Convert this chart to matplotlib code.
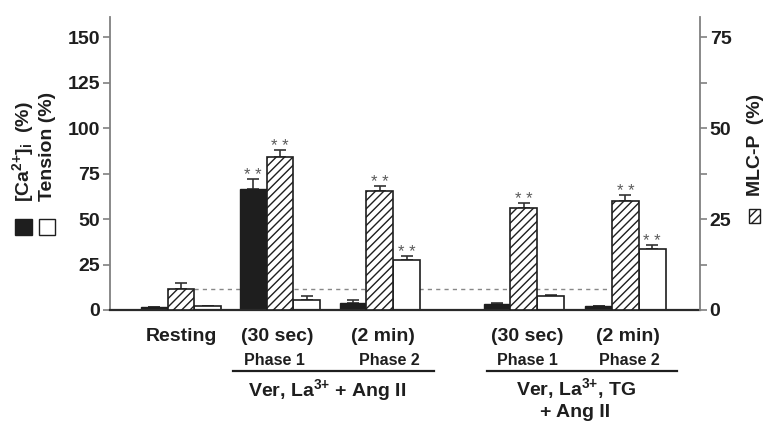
import numpy as np
import matplotlib
matplotlib.use("Agg")
import matplotlib.pyplot as plt
import matplotlib.transforms as mtransforms
from matplotlib.patches import Rectangle

plt.rcParams['font.family'] = ['Liberation Sans', 'DejaVu Sans']
plt.rcParams['font.weight'] = 'bold'
plt.rcParams['mathtext.fontset'] = 'custom'
plt.rcParams['mathtext.rm'] = 'Liberation Sans:bold'
plt.rcParams['mathtext.bf'] = 'Liberation Sans:bold'
plt.rcParams['mathtext.default'] = 'rm'
plt.rcParams['hatch.linewidth'] = 1.0

# data (left axis %: Ca and tension, right axis %: MLC-P)
groups = ["Resting", "(30 sec)", "(2 min)", "(30 sec)", "(2 min)"]
phases = ["Phase 1", "Phase 2", "Phase 1", "Phase 2"]
ca = [1.8, 66.3, 3.8, 3.1, 2.0]
ca_err = [0.0, 5.5, 1.5, 0.9, 0.0]
mlcp = [5.8, 42.1, 32.7, 27.9, 30.0]
mlcp_err = [1.7, 1.9, 1.4, 1.5, 1.6]
tension = [2.2, 5.5, 27.5, 7.9, 33.7]
tension_err = [0.0, 2.4, 2.2, 0.5, 2.2]
ca_sig = [False, True, False, False, False]
mlcp_sig = [False, True, True, True, True]
tension_sig = [False, False, True, False, True]
mlcp_rest = 5.9

W, H = 763, 421
DARK = '#1e1e1e'
GREY = '#5a5a5a'

fig = plt.figure(figsize=(W / 100, H / 100), dpi=100)
ax = fig.add_axes([110 / W, 1 - 310 / H, 590 / W, 293 / H])
ax2 = ax.twinx()

centers = np.array([2.65, 6.34, 10.06, 15.43, 19.22])  # middle (hatched) bar of each group
label_x = [2.67, 6.22, 10.18, 15.54, 19.32]
phase_x = [6.15, 10.40, 15.55, 19.35]
bw = 1.0

ax.set_xlim(0, 22)
ax.set_ylim(0, 161)
ax2.set_ylim(0, 80.5)

# dashed resting level of MLC-P
ax.plot([centers[0] + 0.5, centers[4] - 0.5], [mlcp_rest * 2, mlcp_rest * 2],
        ls=(0, (3, 3)), color='#888888', lw=1.0, zorder=1)

ax.bar(centers - bw, ca, bw, color=DARK, edgecolor=DARK, lw=1.0, zorder=2)
ax.bar(centers + bw, tension, bw, color='white', edgecolor=DARK, lw=1.2, zorder=2)
ax2.bar(centers, mlcp, bw, color='white', edgecolor=DARK, lw=1.2, hatch='////', zorder=2)

ekw = dict(fmt='none', ecolor='#333333', elinewidth=1.2, capsize=4, capthick=1.2, zorder=1.5)
ax.errorbar(centers - bw, ca, yerr=[np.zeros(5), ca_err], **ekw)
ax.errorbar(centers + bw, tension, yerr=[np.zeros(5), tension_err], **ekw)
ax2.errorbar(centers, mlcp, yerr=[np.zeros(5), mlcp_err], **ekw)

# significance marks
skw = dict(xytext=(0, -0.7), textcoords='offset points', ha='center', va='baseline',
           fontsize=12, color=GREY, fontweight='normal')
for i in range(5):
    if ca_sig[i]:
        ax.annotate("* *", (centers[i] - bw, ca[i] + ca_err[i]), **skw)
    if tension_sig[i]:
        ax.annotate("* *", (centers[i] + bw, tension[i] + tension_err[i]), **skw)
    if mlcp_sig[i]:
        ax2.annotate("* *", (centers[i], mlcp[i] + mlcp_err[i]), **skw)

# axes styling
for a in (ax, ax2):
    a.spines['top'].set_visible(False)
    a.set_xticks([])
ax.spines['right'].set_visible(False)
ax2.spines['left'].set_visible(False)
ax2.spines['bottom'].set_visible(False)
ax.spines['left'].set_color('#808080')
ax.spines['left'].set_linewidth(1.3)
ax2.spines['right'].set_color('#808080')
ax2.spines['right'].set_linewidth(1.3)
ax.spines['bottom'].set_color('#2a2a2a')
ax.spines['bottom'].set_linewidth(1.6)

ax.set_yticks([0, 25, 50, 75, 100, 125, 150])
ax.tick_params(axis='y', length=5, width=1.2, color='#808080', labelsize=14, labelcolor=DARK, pad=2)
ax2.set_yticks([0, 25, 50, 75])
ax2.set_yticks([12.5, 37.5, 62.5], minor=True)
ax2.tick_params(axis='y', which='both', length=5, width=1.2, color='#808080', labelsize=14,
                labelcolor=DARK, pad=2)

# x-axis category labels
xfp = ('data', 'figure pixels')
tkw = dict(xycoords=xfp, ha='center', va='baseline', color=DARK, annotation_clip=False)
for i, g in enumerate(groups):
    ax.annotate(g, (label_x[i], H - 341), fontsize=14, **tkw)
for x, p in zip(phase_x, phases):
    ax.annotate(p, (x, H - 365), fontsize=11.5, **tkw)

under = mtransforms.blended_transform_factory(ax.transData, mtransforms.IdentityTransform())
ax.plot([4.6, 12.08], [H - 370.5, H - 370.5], color=DARK, lw=1.6, transform=under, clip_on=False)
ax.plot([14.05, 21.13], [H - 370.5, H - 370.5], color=DARK, lw=1.6, transform=under, clip_on=False)

ax.annotate("Ver, La$^{3{+}}$ + Ang II", (8.08, H - 396.5), fontsize=14, **tkw)
ax.annotate("Ver, La$^{3{+}}$, TG", (17.37, H - 395.5), fontsize=14, **tkw)
ax.annotate("+ Ang II", (17.35, H - 417), fontsize=14, **tkw)

# y-axis labels with legend swatches
fig.text(23 / W, 1 - 152 / H, "[Ca$^{2{+}}$]$_{i}$  (%)", rotation=90, ha='center', va='center',
         fontsize=14, color=DARK)
fig.text(48 / W, 1 - 146.5 / H, "Tension (%)", rotation=90, ha='center', va='center',
         fontsize=14, color=DARK)
fig.add_artist(Rectangle((15 / W, 1 - 235 / H), 17 / W, 16 / H, transform=fig.transFigure,
                         facecolor=DARK, edgecolor=DARK, lw=1))
fig.add_artist(Rectangle((39 / W, 1 - 235 / H), 16 / W, 16 / H, transform=fig.transFigure,
                         facecolor='white', edgecolor=DARK, lw=1))

fig.text(755 / W, 1 - 144.5 / H, "MLC-P  (%)", rotation=90, ha='center', va='center',
         fontsize=14, color=DARK)
fig.add_artist(Rectangle((749 / W, 1 - 223 / H), 11 / W, 14 / H, transform=fig.transFigure,
                         facecolor='white', edgecolor=DARK, lw=1, hatch='////'))

fig.savefig("out.png", dpi=100)
